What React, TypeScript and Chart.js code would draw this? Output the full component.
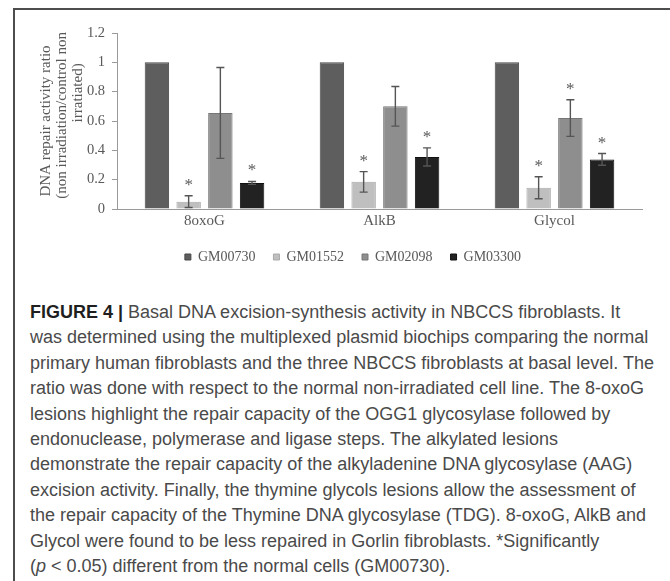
import React, { useEffect, useRef } from "react";
import { Chart, registerables } from "chart.js";

Chart.register(...registerables);

// ---- data ----
const categories = ["8oxoG", "AlkB", "Glycol"];
const seriesNames = ["GM00730", "GM01552", "GM02098", "GM03300"];
const gm00730 = [1, 1, 1];
const gm01552 = [0.05, 0.185, 0.145];
const gm02098 = [0.655, 0.7, 0.62];
const gm03300 = [0.178, 0.355, 0.338];
const err00730 = [0, 0, 0];
const err01552 = [0.04, 0.07, 0.075];
const err02098 = [0.31, 0.135, 0.125];
const err03300 = [0.01, 0.062, 0.04];
const sig00730 = [false, false, false];
const sig01552 = [true, true, true];
const sig02098 = [false, false, true];
const sig03300 = [true, true, true];
const yTicks = [0, 0.2, 0.4, 0.6, 0.8, 1, 1.2];
const yTitle = [
  "DNA repair activity ratio",
  "   (non irradiation/control non",
  "               irratiated)",
];

const captionLines = [
  "Basal DNA excision-synthesis activity in NBCCS fibroblasts. It",
  "was determined using the multiplexed plasmid biochips comparing the normal",
  "primary human fibroblasts and the three NBCCS fibroblasts at basal level. The",
  "ratio was done with respect to the normal non-irradiated cell line. The 8-oxoG",
  "lesions highlight the repair capacity of the OGG1 glycosylase followed by",
  "endonuclease, polymerase and ligase steps. The alkylated lesions",
  "demonstrate the repair capacity of the alkyladenine DNA glycosylase (AAG)",
  "excision activity. Finally, the thymine glycols lesions allow the assessment of",
  "the repair capacity of the Thymine DNA glycosylase (TDG). 8-oxoG, AlkB and",
  "Glycol were found to be less repaired in Gorlin fibroblasts. *Significantly",
];

// ---- styles ----
const SERIF = "'Liberation Serif', 'Times New Roman', serif";
const TEXT_GREY = "#595959";
const fills = ["#5e5e5e", "#bfbfbf", "#8e8e8e", "#222222"];
const borders = ["#474747", "#a9a9a9", "#767676", "#111111"];

const errorBarPlugin = {
  id: "errorBars",
  afterDatasetsDraw(chart: any) {
    const ctx = chart.ctx;
    const yScale = chart.scales.y;
    chart.data.datasets.forEach((ds: any, i: number) => {
      const meta = chart.getDatasetMeta(i);
      meta.data.forEach((bar: any, j: number) => {
        const v = ds.data[j];
        const e = ds.errors[j];
        const x = bar.x;
        const yTop = yScale.getPixelForValue(v + e);
        const yBot = yScale.getPixelForValue(v - e);
        ctx.save();
        if (e > 0) {
          ctx.strokeStyle = "#555555";
          ctx.lineWidth = 1.4;
          ctx.beginPath();
          ctx.moveTo(x, yTop);
          ctx.lineTo(x, yBot);
          ctx.moveTo(x - 4, yTop);
          ctx.lineTo(x + 4, yTop);
          ctx.moveTo(x - 4, yBot);
          ctx.lineTo(x + 4, yBot);
          ctx.stroke();
        }
        if (ds.sig[j]) {
          ctx.fillStyle = "#5a5a5a";
          ctx.font = `17px ${SERIF}`;
          ctx.textAlign = "center";
          ctx.textBaseline = "alphabetic";
          ctx.fillText("*", x, yTop - 6);
        }
        ctx.restore();
      });
    });
  },
};

const legendShiftPlugin = {
  id: "legendShift",
  afterLayout(chart: any, _args: any, opts: any) {
    const lg = chart.legend;
    if (!lg) return;
    lg.left += opts.dx || 0;
    lg.right += opts.dx || 0;
  },
};

export default function App() {
  const ref = useRef<HTMLCanvasElement>(null);

  useEffect(() => {
    const values = [gm00730, gm01552, gm02098, gm03300];
    const errs = [err00730, err01552, err02098, err03300];
    const sigs = [sig00730, sig01552, sig02098, sig03300];
    const chart = new Chart(ref.current as HTMLCanvasElement, {
      type: "bar",
      data: {
        labels: categories,
        datasets: seriesNames.map((name, i) => ({
          label: name,
          data: values[i],
          errors: errs[i],
          sig: sigs[i],
          backgroundColor: fills[i],
          borderColor: borders[i],
          borderWidth: 1,
          barPercentage: 0.77,
          categoryPercentage: 0.725,
        })) as any,
      },
      options: {
        responsive: false,
        animation: false,
        devicePixelRatio: 1,
        events: [],
        layout: { padding: { top: 23, right: 28, bottom: 6, left: 0 } },
        plugins: {
          tooltip: { enabled: false },
          legend: {
            position: "bottom",
            labels: {
              boxWidth: 6,
              boxHeight: 6,
              padding: 18,
              color: TEXT_GREY,
              font: { family: SERIF, size: 14 },
            },
          },
          legendShift: { dx: 25 },
        } as any,
        scales: {
          x: {
            grid: { display: false, drawTicks: false },
            border: { display: true, color: "#9a9a9a", width: 1 },
            ticks: { color: TEXT_GREY, font: { family: SERIF, size: 15 }, padding: 3 },
            afterFit: (s: any) => {
              s.height = 23;
            },
          },
          y: {
            min: 0,
            max: 1.2,
            afterBuildTicks: (s: any) => {
              s.ticks = yTicks.map((v) => ({ value: v }));
            },
            afterFit: (s: any) => {
              s.width = 103;
            },
            ticks: {
              color: TEXT_GREY,
              font: { family: SERIF, size: 14.5 },
              padding: 7,
              callback: (v: any) => String(v),
            },
            grid: { drawOnChartArea: false, drawTicks: true, tickLength: 5, color: "#9a9a9a" },
            border: { display: true, color: "#9a9a9a", width: 1 },
            title: {
              display: true,
              text: yTitle,
              color: TEXT_GREY,
              font: { family: SERIF, size: 15, lineHeight: 16 / 15 },
              padding: { top: 24, bottom: 0 },
            },
          },
        },
      } as any,
      plugins: [errorBarPlugin, legendShiftPlugin],
    });
    return () => chart.destroy();
  }, []);

  return (
    <div
      style={{
        position: "absolute",
        left: 0,
        top: 0,
        width: 670,
        height: 581,
        background: "#ffffff",
        overflow: "hidden",
      }}
    >
      <div style={{ position: "absolute", left: 13, top: 8, width: 657, height: 2, background: "#4d4d4d" }} />
      <div style={{ position: "absolute", left: 13, top: 8, width: 2, height: 573, background: "#4d4d4d" }} />
      <canvas
        ref={ref}
        width={656}
        height={270}
        style={{ position: "absolute", left: 14, top: 10, width: 656, height: 270 }}
      />
      <div
        style={{
          position: "absolute",
          left: 30,
          top: 300,
          fontFamily: "'Liberation Sans', Arial, sans-serif",
          fontSize: 18,
          lineHeight: "25.4px",
          color: "#4a4a4a",
          whiteSpace: "nowrap",
        }}
      >
        <div>
          <span style={{ fontWeight: "bold", color: "#1f1f1f" }}>FIGURE 4 |</span> {captionLines[0]}
        </div>
        {captionLines.slice(1).map((l, i) => (
          <div key={i}>{l}</div>
        ))}
        <div>
          (<i>p</i> &lt; 0.05) different from the normal cells (GM00730).
        </div>
      </div>
    </div>
  );
}
